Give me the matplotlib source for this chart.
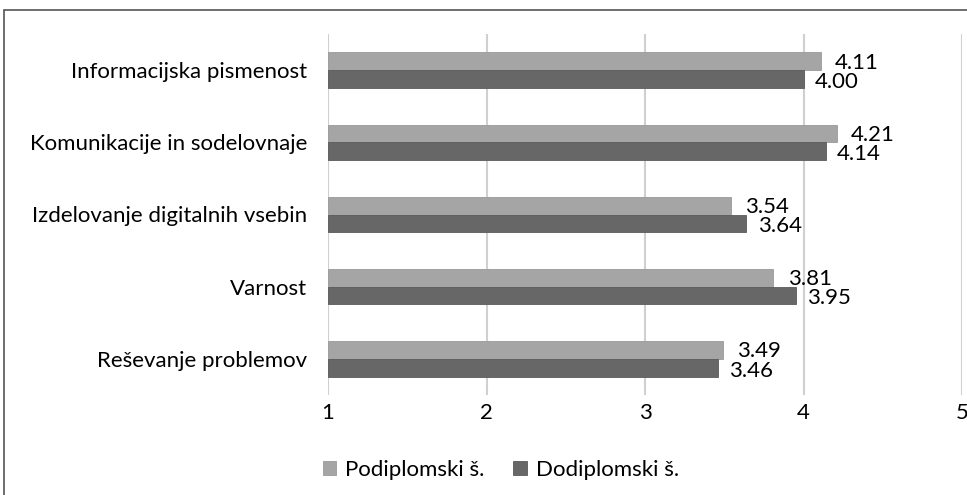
import matplotlib
matplotlib.use("Agg")
import matplotlib.pyplot as plt
from matplotlib.patches import Rectangle
import numpy as np

categories = ["Informacijska pismenost", "Komunikacije in sodelovnaje",
              "Izdelovanje digitalnih vsebin", "Varnost", "Reševanje problemov"]
podiplomski = [4.11, 4.21, 3.54, 3.81, 3.49]
dodiplomski = [4.00, 4.14, 3.64, 3.95, 3.46]
xticks = [1, 2, 3, 4, 5]
series_names = ["Podiplomski š.", "Dodiplomski š."]

plt.rcParams['font.family'] = ['Lato', 'DejaVu Sans']
W, H = 967, 495
fig = plt.figure(figsize=(W/100, H/100), dpi=100)
ax = fig.add_axes([328/W, 1-395/H, (962-328)/W, (395-34)/H])

n = len(categories)
y = np.arange(n)[::-1].astype(float)
h = 0.245
light = "#A5A5A5"
dark = "#676767"
fs = 16
ax.barh(y + h/2, np.array(podiplomski) - 1, left=1, height=h, color=light,
        edgecolor="#9a9a9a", linewidth=0.6, label=series_names[0], zorder=3)
ax.barh(y - h/2, np.array(dodiplomski) - 1, left=1, height=h, color=dark,
        edgecolor="#5a5a5a", linewidth=0.6, label=series_names[1], zorder=3)

for yi, v in zip(y, podiplomski):
    ax.text(v + 0.09, yi + h/2 - 0.02, f"{v:.2f}", va="center", ha="left", fontsize=fs, color="black")
for yi, v in zip(y, dodiplomski):
    ax.text(v + 0.07, yi - h/2 - 0.04, f"{v:.2f}", va="center", ha="left", fontsize=fs, color="black")

ax.set_xlim(1, 5)
ax.set_ylim(-0.5, n - 0.5)
ax.set_xticks(xticks)
ax.set_xticklabels([str(t) for t in xticks], fontsize=fs)
ax.set_yticks(y)
ax.set_yticklabels(categories, fontsize=fs)
ax.tick_params(axis='x', length=0, pad=6)
ax.tick_params(axis='y', length=0, pad=15)
ax.grid(axis='x', color="#D0D0D0", linewidth=1.5, zorder=0)
for s in ax.spines.values():
    s.set_visible(False)

leg = fig.legend(loc="center left", bbox_to_anchor=(303/W, 1-470/H), ncol=2, frameon=False,
                 fontsize=fs, handlelength=0.6, handleheight=0.6, handletextpad=0.4,
                 columnspacing=1.3)

fig.patches.append(Rectangle((4/W, -0.1), 1.2, 1-10/H+0.1, transform=fig.transFigure,
                             fill=False, edgecolor="#555555", linewidth=1.2))

fig.savefig("out.png", dpi=100)
